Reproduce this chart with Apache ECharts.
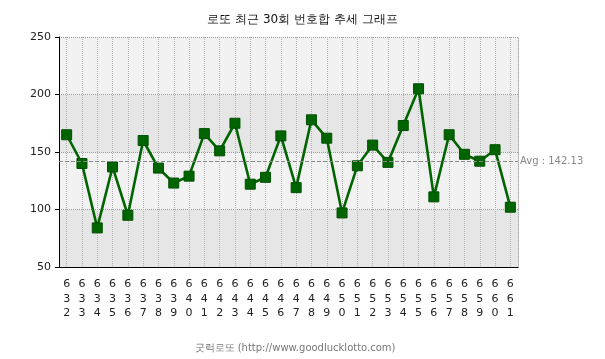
<!DOCTYPE html>
<html><head><meta charset="utf-8">
<script src="https://cdn.jsdelivr.net/npm/echarts@6/dist/echarts.min.js"></script>
<style>html,body{margin:0;padding:0;background:#fff}#c{width:605px;height:359px}</style>
</head><body><div id="c"></div>
<script>
const draws = ['632','633','634','635','636','637','638','639','640','641','642','643','644','645','646','647','648','649','650','651','652','653','654','655','656','657','658','659','660','661'];
const sums = [165,140,84,137,95,160,136,123,129,166,151,175,122,128,164,119,178,162,97,138,156,141,173,205,111,165,148,142,152,102];
const avgValue = 142.13;
const yTicks = [50,100,150,200,250];
const titleText = '로또 최근 30회 번호합 추세 그래프';
const footerText = '굿럭로또 (http://www.goodlucklotto.com)';

const font = 'Tahoma, "DejaVu Sans", sans-serif';
const chart = echarts.init(document.getElementById('c'), null, {renderer:'canvas'});
chart.setOption({
  animation:false,
  backgroundColor:'#fff',
  title:[
    {text:titleText, left:'center', top:9, textStyle:{fontSize:12, fontWeight:'normal', color:'#111', fontFamily:font}},
    {text:footerText, left:290, textAlign:'center', top:338, textStyle:{fontSize:10, fontWeight:'normal', color:'#777', fontFamily:font}}
  ],
  grid:{left:59, right:87, top:37, bottom:92},
  xAxis:{
    type:'category', data:draws, boundaryGap:true,
    axisLine:{lineStyle:{color:'#000', width:1}},
    axisTick:{alignWithLabel:true, length:4, lineStyle:{color:'#000'}},
    axisLabel:{interval:0, margin:10, fontSize:11, color:'#222', fontFamily:font, lineHeight:14.5,
      formatter:v=>v.split('').join('\n')},
    splitLine:{show:true, alignWithLabel:true, lineStyle:{type:'dotted', color:'#b4b4b4', width:1}}
  },
  yAxis:[{
    type:'value', min:yTicks[0], max:yTicks[yTicks.length-1], interval:50,
    axisLine:{show:true, lineStyle:{color:'#000', width:1}},
    axisTick:{show:true, length:4, lineStyle:{color:'#000'}},
    axisLabel:{fontSize:11, color:'#222', margin:8, fontFamily:font},
    splitLine:{show:true, lineStyle:{type:'dotted', color:'#999', width:1}},
    splitArea:{show:true, areaStyle:{color:['#e6e6e6','#f1f1f1']}}
  },{
    type:'value', position:'right', min:yTicks[0], max:yTicks[yTicks.length-1], interval:50,
    axisLine:{show:true, lineStyle:{color:'#aaa', type:'dotted', width:1}},
    axisTick:{show:false}, axisLabel:{show:false}, splitLine:{show:false}
  }],
  series:[{
    type:'line', data:sums, yAxisIndex:0,
    symbol:'rect', symbolSize:10,
    lineStyle:{color:'#006400', width:2.6},
    itemStyle:{color:'#006400', borderColor:'#005000', borderWidth:1},
    markLine:{
      silent:true, symbol:'none',
      lineStyle:{type:'dashed', color:'#888', width:1},
      label:{position:'end', distance:2, formatter:'Avg : ' + avgValue.toFixed(2), color:'#888', fontSize:10, fontFamily:font},
      data:[{yAxis:avgValue}]
    }
  }]
});
</script></body></html>
